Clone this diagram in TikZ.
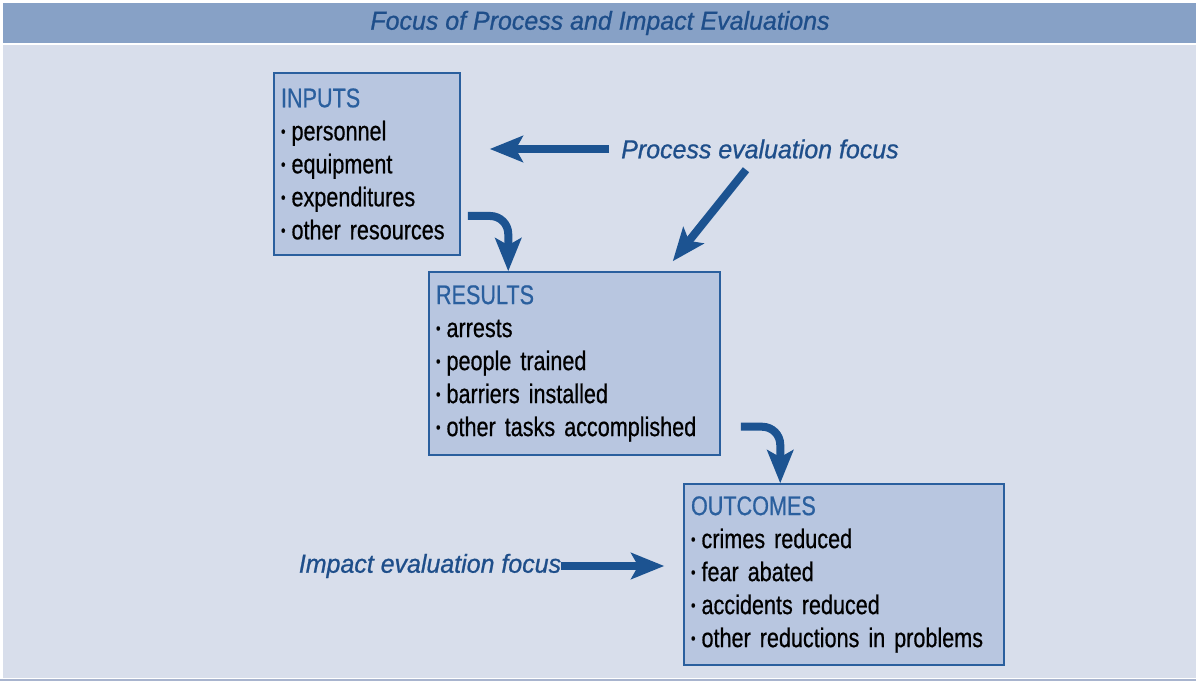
\documentclass[tikz,border=0pt]{standalone}
\usepackage{fontspec}
\setmainfont{Liberation Sans}
\newfontfamily\boxfont{Liberation Sans}[FakeStretch=0.8,FakeBold=0.6]
\newfontfamily\focusfont{Liberation Sans}[FakeStretch=0.96,FakeBold=0.8]
\usetikzlibrary{arrows.meta,positioning,calc}
\definecolor{bandblue}{RGB}{135,161,198}
\definecolor{bgblue}{RGB}{216,222,235}
\definecolor{boxblue}{RGB}{184,198,224}
\definecolor{edgeblue}{RGB}{42,95,158}
\definecolor{arrowblue}{RGB}{28,83,145}
\definecolor{textblue}{RGB}{30,78,138}
\definecolor{rulegray}{RGB}{168,180,206}
\tikzstyle{block} = [rectangle, draw=edgeblue, line width=1.5pt, fill=boxblue,
  inner xsep=7pt, inner ysep=0pt, align=left, font={\boxfont\fontsize{27}{33}\selectfont}]
\tikzstyle{focus} = [inner sep=0pt, text=textblue,
  font={\focusfont\itshape\fontsize{26}{30}\selectfont}]
\tikzstyle{line} = [draw, line width=8pt, color=arrowblue,
  -{Stealth[length=33pt,width=26pt,inset=7pt]}]
\newcommand{\hdr}[1]{\textcolor{edgeblue}{#1}}
\newcommand{\itm}[1]{\mbox{\raisebox{0.12em}{\scalebox{0.6}{\textbullet}}\hspace{6pt}#1}}

\begin{document}
\begin{tikzpicture}[x=1pt,y=1pt]

  \useasboundingbox (0,0) rectangle (1196,684);
  \fill[white] (0,0) rectangle (1196,684);
  \fill[bandblue] (3,641) rectangle (1196,681);
  \fill[bgblue] (3,6) rectangle (1196,639);
  \fill[rulegray] (0,3) rectangle (1196,5);

  \node [focus] (title) at (600,661) {Focus of Process and Impact Evaluations};

  %%%%%%%%%%%%%%%%%%%%%%%%%%%%%%%%%%%%%%%%%%%%%%%%%%%%%%%%%%%%%%
  %                    BOXES                                   %
  %%%%%%%%%%%%%%%%%%%%%%%%%%%%%%%%%%%%%%%%%%%%%%%%%%%%%%%%%%%%%%

  \node [block, text width=172pt, minimum height=182pt] (inputs) at (367,520) {
    \hdr{INPUTS}\\
    \itm{personnel}\\
    \itm{equipment}\\
    \itm{expenditures}\\
    \itm{other resources}
  };
  \node [block, text width=277pt, minimum height=183pt] (results) at (574.5,320.5) {
    \hdr{RESULTS}\\
    \itm{arrests}\\
    \itm{people trained}\\
    \itm{barriers installed}\\
    \itm{other tasks accomplished}
  };
  \node [block, text width=306pt, minimum height=181pt] (outcomes) at (844,109.5) {
    \hdr{OUTCOMES}\\
    \itm{crimes reduced}\\
    \itm{fear abated}\\
    \itm{accidents reduced}\\
    \itm{other reductions in problems}
  };

  %%%%%%%%%%%%%%%%%%%%%%%%%%%%%%%%%%%%%%%%%%%%%%%%%%%%%%%%%%%%%%
  %                    FOCUS LABELS                            %
  %%%%%%%%%%%%%%%%%%%%%%%%%%%%%%%%%%%%%%%%%%%%%%%%%%%%%%%%%%%%%%

  \node [focus] (process) at (760,535) {Process evaluation focus};
  \node [focus] (impact) at (430,118) {Impact evaluation focus};

  \draw[line, shorten >=29pt] ([xshift=-12pt]process.west) -- (process.west -| inputs.east);
  \draw[line] ([xshift=-14pt,yshift=-11pt]process.south) -- ([xshift=-48pt,yshift=10pt]results.north east);
  \draw[line, rounded corners=18pt] ([xshift=7pt,yshift=-52pt]inputs.east) -| ([xshift=80pt]results.north west);
  \draw[line, rounded corners=18pt] ([xshift=20pt,yshift=29pt]results.south east) -| ([xshift=97pt]outcomes.north west);
  \draw[line, shorten >=19pt] (impact.east) -- (impact.east -| outcomes.west);

\end{tikzpicture}
\end{document}
